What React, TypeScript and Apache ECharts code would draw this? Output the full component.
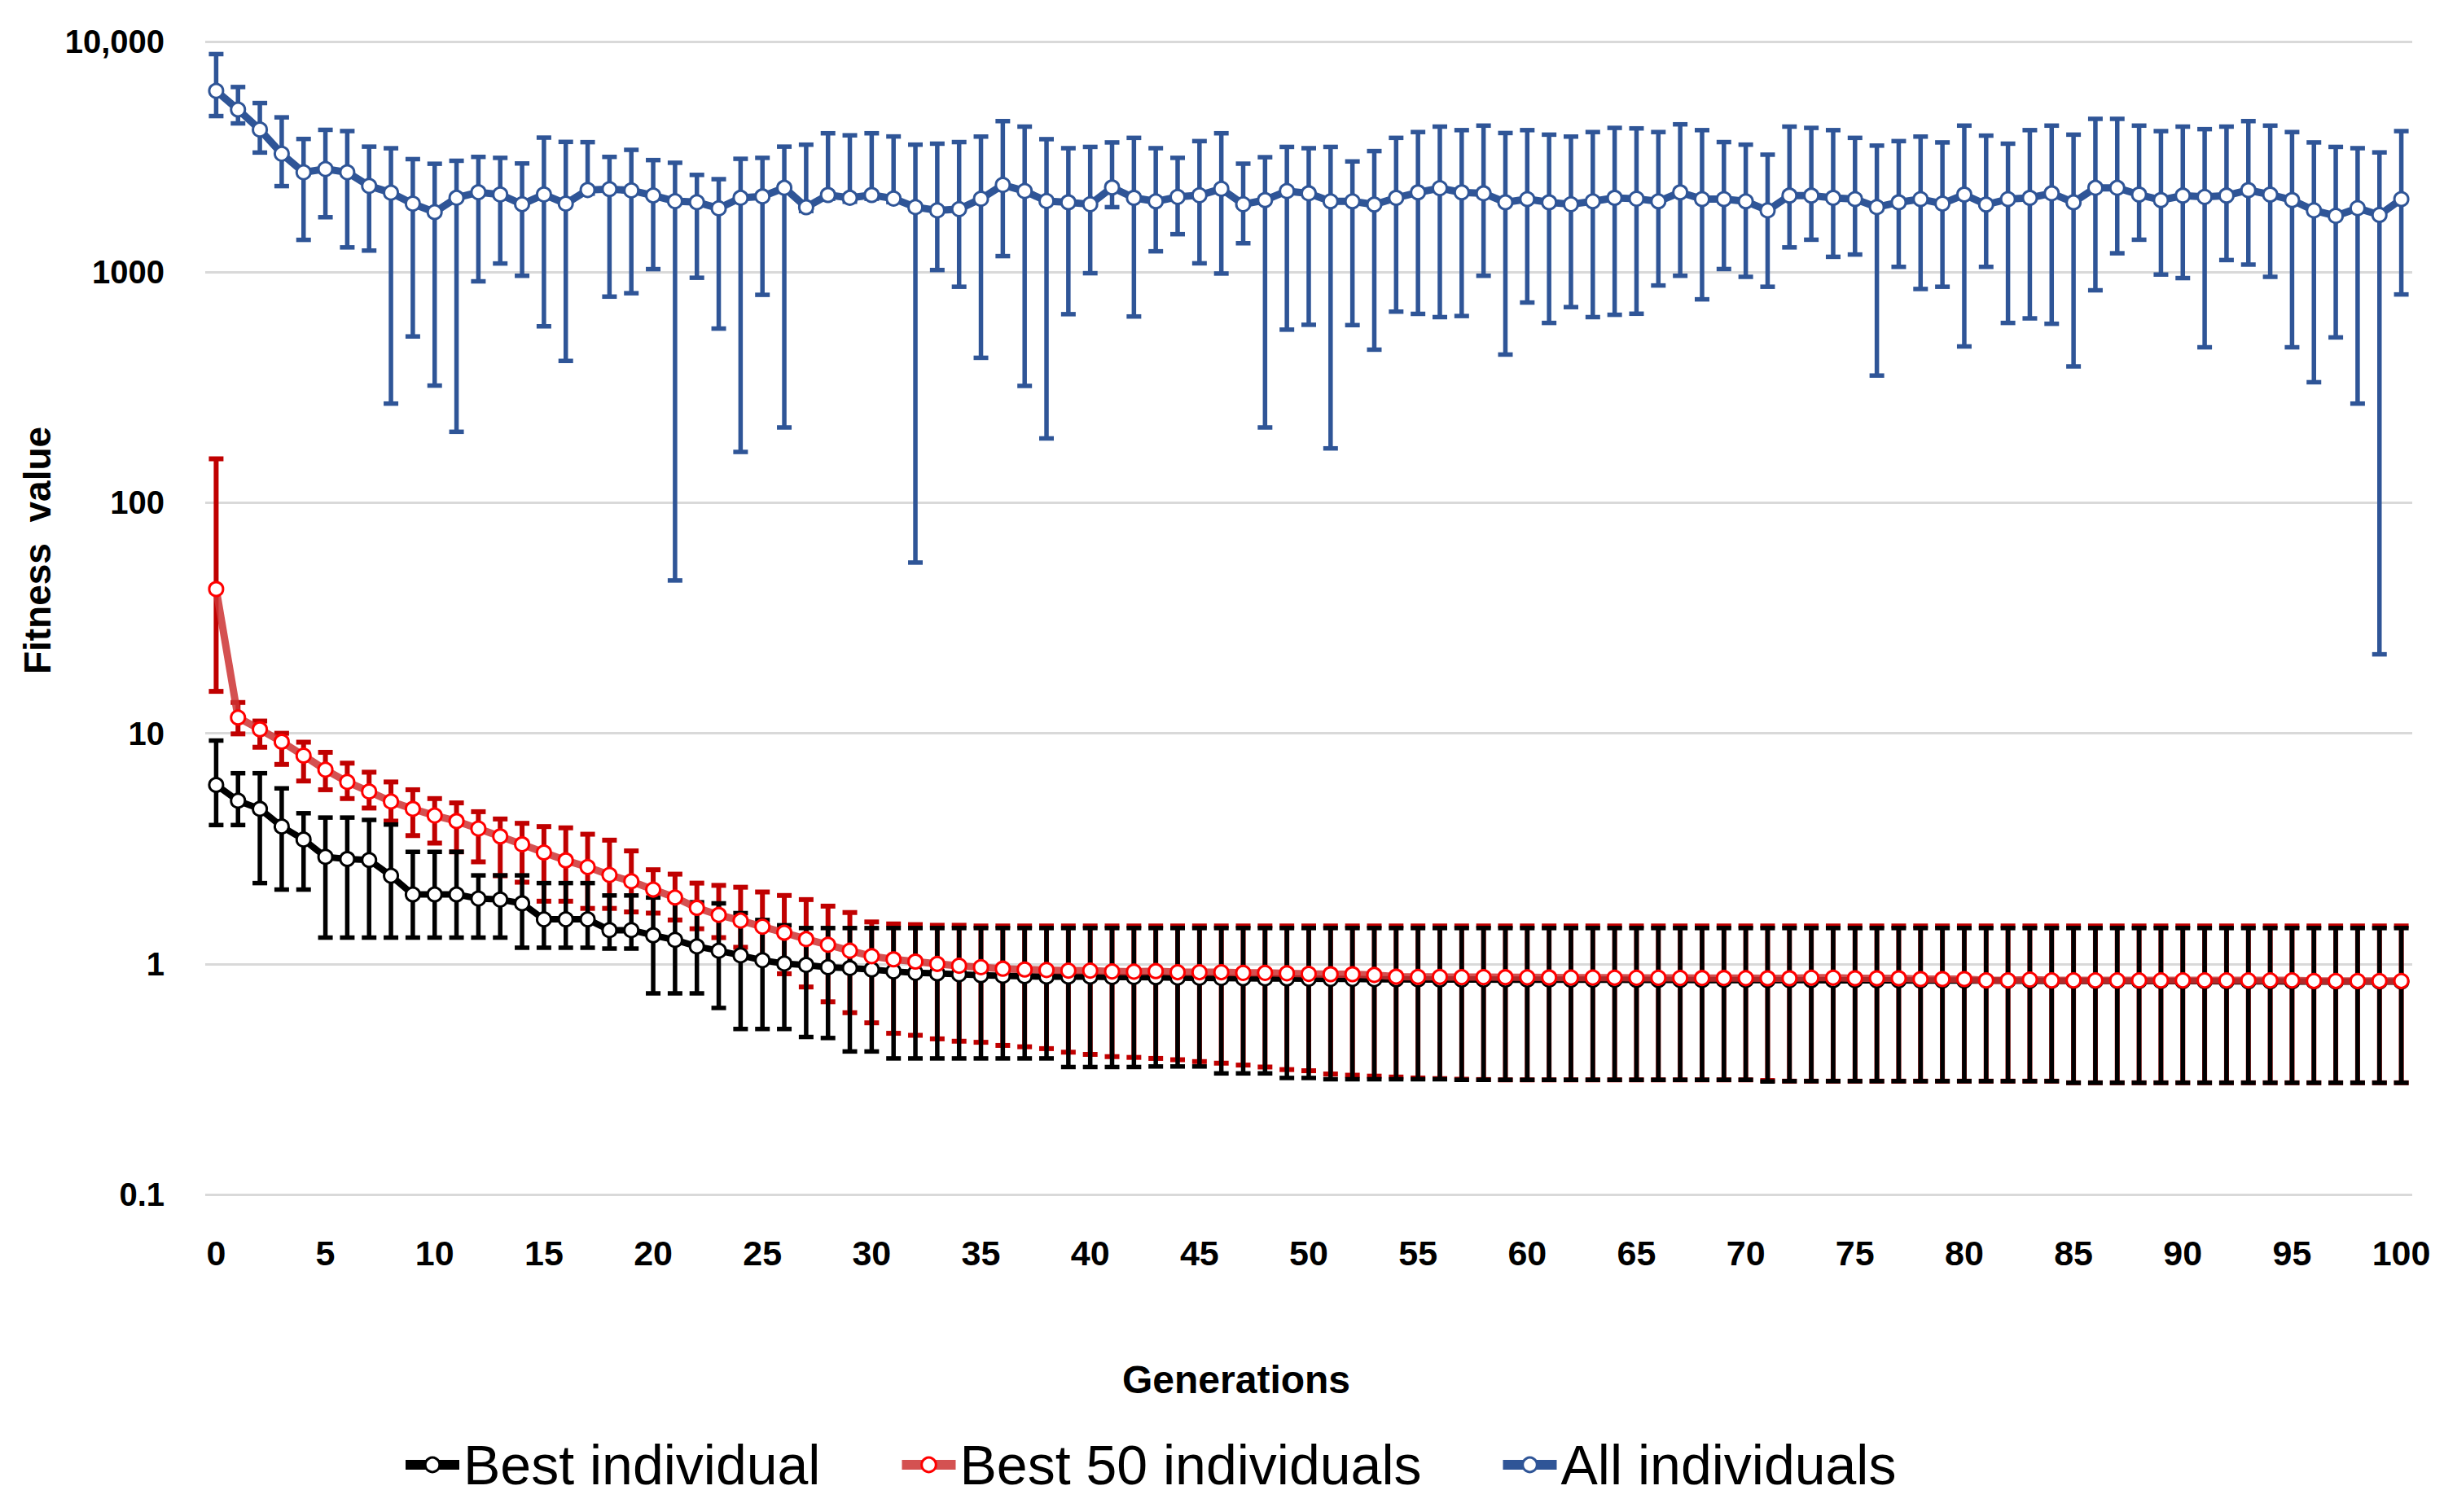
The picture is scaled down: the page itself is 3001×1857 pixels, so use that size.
import React, { useEffect, useRef } from "react";
import * as echarts from "echarts";

const generations: string[] = Array.from({ length: 101 }, (_, i) => String(i));

const blueMean = [6110,5070,4150,3260,2710,2800,2710,2365,2210,1980,
1820,2100,2220,2170,1970,2170,1980,2270,2290,2260,
2150,2030,2010,1890,2100,2130,2320,1912,2160,2100,
2160,2085,1913,1852,1876,2079,2388,2246,2033,2007,
1969,2328,2099,2027,2119,2154,2297,1969,2053,2246,
2196,2027,2027,1963,2099,2217,2312,2217,2196,2007,
2073,2007,1969,2027,2099,2080,2027,2217,2073,2073,
2027,1852,2147,2147,2099,2073,1913,2007,2073,1982,
2168,1963,2073,2099,2196,2007,2320,2320,2168,2053,
2147,2119,2147,2268,2168,2053,1852,1753,1894,1770,
2073];
const blueLow = [4750,4415,3300,2360,1380,1730,1280,1240,269,526,
322,203,912,1090,964,582,412,2190,783,810,
1030,46,945,569,166,797,212,1840,2080,2020,
2080,2010,55,1021,864,425,1173,321,190,657,
989,1913,642,1231,1460,1092,986,1334,212,563,
591,172,589,461,674,659,638,645,964,439,
738,602,705,638,653,660,875,964,762,1031,
954,864,1280,1382,1165,1192,356,1054,845,864,
476,1054,602,630,597,390,834,1207,1382,976,
942,472,1128,1078,954,472,333,521,269,22,
800];
const blueHigh = [8820,6350,5410,4690,3780,4140,4090,3500,3445,3090,
2950,3040,3160,3130,2960,3830,3670,3660,3160,3390,
3060,2980,2640,2530,3100,3130,3500,3570,4000,3920,
4000,3875,3571,3606,3663,3870,4517,4276,3772,3447,
3491,3651,3821,3447,3130,3699,4000,2953,3150,3491,
3447,3491,3020,3348,3821,4049,4276,4128,4318,4010,
4128,3946,3870,4049,4221,4200,4049,4374,4128,3663,
3571,3231,4276,4221,4128,3821,3537,3699,3870,3651,
4318,3908,3606,4128,4318,3946,4620,4620,4318,4088,
4276,4168,4276,4517,4318,4049,3651,3491,3447,3305,
4088];

const redMean = [42.2,11.7,10.4,9.19,8.0,6.95,6.15,5.59,5.06,4.70,
4.40,4.16,3.86,3.57,3.30,3.04,2.81,2.63,2.43,2.28,
2.10,1.94,1.75,1.63,1.54,1.45,1.365,1.28,1.21,1.14,
1.08,1.046,1.023,1.0,0.981,0.967,0.953,0.945,0.94,0.935,
0.935,0.927,0.925,0.93,0.92,0.92,0.92,0.914,0.914,0.91,
0.905,0.902,0.902,0.895,0.88,0.878,0.878,0.876,0.876,0.875,
0.874,0.873,0.872,0.872,0.871,0.87,0.87,0.869,0.868,0.868,
0.867,0.866,0.866,0.871,0.871,0.866,0.866,0.866,0.859,0.859,
0.859,0.848,0.848,0.855,0.848,0.848,0.848,0.848,0.848,0.848,
0.848,0.848,0.848,0.848,0.848,0.848,0.843,0.843,0.843,0.843,
0.843];
const redLow = [15.2,9.94,8.7,7.33,6.21,5.69,5.21,4.74,4.16,3.60,
3.34,3.06,2.77,2.41,2.26,1.87,1.87,1.74,1.74,1.68,
1.66,1.55,1.42,1.30,1.18,1.037,0.906,0.794,0.685,0.614,
0.555,0.50,0.49,0.473,0.462,0.457,0.443,0.437,0.429,0.414,
0.405,0.396,0.393,0.389,0.384,0.377,0.371,0.364,0.357,0.348,
0.344,0.333,0.329,0.326,0.323,0.320,0.318,0.316,0.315,0.314,
0.314,0.314,0.314,0.314,0.314,0.314,0.314,0.314,0.314,0.314,
0.314,0.312,0.31,0.31,0.31,0.31,0.31,0.31,0.31,0.31,
0.31,0.31,0.31,0.31,0.31,0.305,0.305,0.305,0.305,0.305,
0.305,0.305,0.305,0.305,0.305,0.305,0.305,0.305,0.305,0.305,
0.305];
const redHigh = [155,13.6,11.3,10.0,9.15,8.27,7.42,6.78,6.15,5.69,
5.21,4.99,4.57,4.25,4.07,3.94,3.89,3.65,3.44,3.09,
2.56,2.45,2.24,2.19,2.15,2.05,1.98,1.90,1.78,1.67,
1.52,1.49,1.48,1.47,1.47,1.46,1.46,1.46,1.46,1.46,
1.46,1.46,1.46,1.46,1.46,1.46,1.46,1.46,1.46,1.46,
1.46,1.46,1.46,1.46,1.46,1.46,1.46,1.46,1.46,1.46,
1.46,1.46,1.46,1.46,1.46,1.46,1.46,1.46,1.46,1.46,
1.46,1.46,1.46,1.46,1.46,1.46,1.46,1.46,1.46,1.46,
1.46,1.46,1.46,1.46,1.46,1.46,1.46,1.46,1.46,1.46,
1.46,1.46,1.46,1.46,1.46,1.46,1.46,1.46,1.46,1.46,
1.46];

const blackMean = [5.97,5.10,4.70,3.94,3.46,2.91,2.85,2.82,2.41,2.0,
2.0,2.0,1.92,1.90,1.83,1.56,1.56,1.56,1.40,1.40,
1.33,1.27,1.19,1.14,1.088,1.037,1.003,0.989,0.967,0.959,
0.945,0.927,0.914,0.909,0.901,0.893,0.888,0.884,0.881,0.881,
0.881,0.877,0.877,0.875,0.872,0.870,0.868,0.866,0.865,0.864,
0.862,0.86,0.86,0.858,0.857,0.856,0.855,0.855,0.855,0.854,
0.854,0.854,0.853,0.853,0.853,0.852,0.852,0.852,0.851,0.851,
0.851,0.85,0.85,0.85,0.849,0.849,0.848,0.848,0.847,0.847,
0.846,0.846,0.845,0.845,0.844,0.844,0.843,0.843,0.842,0.842,
0.841,0.841,0.840,0.840,0.840,0.839,0.839,0.838,0.838,0.838,
0.838];
const blackLow = [4.0,4.0,2.24,2.10,2.10,1.30,1.30,1.30,1.30,1.30,
1.30,1.30,1.30,1.30,1.175,1.175,1.175,1.175,1.165,1.165,
0.745,0.745,0.745,0.644,0.522,0.522,0.522,0.482,0.477,0.417,
0.417,0.389,0.389,0.389,0.389,0.389,0.389,0.389,0.389,0.357,
0.357,0.357,0.357,0.359,0.359,0.359,0.335,0.335,0.335,0.320,
0.320,0.316,0.316,0.316,0.316,0.316,0.316,0.314,0.314,0.314,
0.314,0.314,0.314,0.314,0.314,0.314,0.314,0.314,0.314,0.314,
0.314,0.309,0.31,0.31,0.31,0.31,0.31,0.31,0.31,0.31,
0.31,0.31,0.31,0.31,0.31,0.305,0.305,0.305,0.305,0.305,
0.305,0.305,0.305,0.305,0.305,0.305,0.305,0.305,0.305,0.305,
0.305];
const blackHigh = [9.3,6.71,6.71,5.77,4.50,4.31,4.31,4.21,4.02,3.06,
3.06,3.06,2.42,2.42,2.42,2.24,2.24,2.24,1.98,1.98,
1.94,1.90,1.85,1.83,1.66,1.55,1.47,1.43,1.43,1.43,
1.43,1.43,1.43,1.43,1.43,1.43,1.43,1.43,1.43,1.43,
1.43,1.43,1.43,1.43,1.43,1.43,1.43,1.43,1.43,1.43,
1.43,1.43,1.43,1.43,1.43,1.43,1.43,1.43,1.43,1.43,
1.43,1.43,1.43,1.43,1.43,1.43,1.43,1.43,1.43,1.43,
1.43,1.43,1.43,1.43,1.43,1.43,1.43,1.43,1.43,1.43,
1.43,1.43,1.43,1.43,1.43,1.43,1.43,1.43,1.43,1.43,
1.43,1.43,1.43,1.43,1.43,1.43,1.43,1.43,1.43,1.43,
1.43];

const yTicks = [0.1, 1, 10, 100, 1000, 10000];
const yTickLabels = ["0.1", "1", "10", "100", "1000", "10,000"];

const FONT = '"Liberation Sans", Arial, sans-serif';
const BLUE = "#2F5597";
const RED_LINE = "rgba(204,50,50,0.85)";
const RED_BAR = "#C00000";
const RED_MARK = "#FF0000";

function errorSeries(name: string, lows: number[], highs: number[], color: string, width: number, z: number) {
  return {
    type: "custom",
    name,
    z,
    silent: true,
    encode: { x: 0, y: [1, 2] },
    data: lows.map((lo, i) => [i, lo, highs[i]]),
    renderItem: (_params: any, api: any) => {
      const x = api.value(0);
      const lo = api.coord([x, api.value(1)]);
      const hi = api.coord([x, api.value(2)]);
      const hw = 9;
      const style = { stroke: color, lineWidth: width };
      return {
        type: "group",
        children: [
          { type: "line", shape: { x1: lo[0], y1: lo[1], x2: hi[0], y2: hi[1] }, style },
          { type: "line", shape: { x1: lo[0] - hw, y1: lo[1], x2: lo[0] + hw, y2: lo[1] }, style },
          { type: "line", shape: { x1: hi[0] - hw, y1: hi[1], x2: hi[0] + hw, y2: hi[1] }, style },
        ],
      };
    },
  };
}

function lineSeries(name: string, data: number[], lineColor: string, markColor: string, width: number, z: number) {
  return {
    type: "line",
    name,
    z,
    data,
    symbol: "circle",
    symbolSize: 17,
    showAllSymbol: true,
    lineStyle: { color: lineColor, width },
    itemStyle: { color: "#ffffff", borderColor: markColor, borderWidth: 3 },
    emphasis: { disabled: true },
  };
}

export default function App() {
  const ref = useRef<HTMLDivElement>(null);
  useEffect(() => {
    document.body.style.margin = "0";
    if (!ref.current) return;
    const chart = echarts.init(ref.current, undefined, { renderer: "svg" });
    chart.setOption({
      animation: false,
      backgroundColor: "#ffffff",
      grid: { left: 252, right: 39, top: 51, bottom: 390, containLabel: false },
      xAxis: {
        type: "category",
        data: generations,
        boundaryGap: true,
        axisLine: { show: false },
        axisTick: { show: false },
        axisLabel: {
          interval: 4,
          margin: 50,
          color: "#000",
          fontSize: 43,
          fontWeight: "bold",
          fontFamily: FONT,
        },
        splitLine: { show: false },
      },
      yAxis: {
        type: "log",
        logBase: 10,
        min: 0.1,
        max: 10000,
        axisLine: { show: false },
        axisTick: { show: false },
        axisLabel: {
          margin: 50,
          color: "#000",
          fontSize: 40,
          fontWeight: "bold",
          fontFamily: FONT,
          formatter: (v: number) => {
            const idx = yTicks.findIndex((t) => Math.abs(t - v) / t < 1e-6);
            return idx >= 0 ? yTickLabels[idx] : String(v);
          },
        },
        splitLine: { show: true, lineStyle: { color: "#d9d9d9", width: 3 } },
      },
      legend: {
        data: [
          { name: "Best individual", lineStyle: { width: 12, color: "#000000" }, itemStyle: { color: "#ffffff", borderColor: "#000000", borderWidth: 3 } },
          { name: "Best 50 individuals", lineStyle: { width: 12, color: RED_LINE }, itemStyle: { color: "#ffffff", borderColor: RED_MARK, borderWidth: 3 } },
          { name: "All individuals", lineStyle: { width: 12, color: BLUE }, itemStyle: { color: "#ffffff", borderColor: BLUE, borderWidth: 3 } },
        ],
        left: 487,
        top: 1760,
        itemWidth: 66,
        itemHeight: 22,
        itemGap: 94,
        textStyle: { fontSize: 68, color: "#000", fontFamily: FONT },
      },
      graphic: [
        {
          type: "text",
          x: 46,
          y: 676,
          rotation: Math.PI / 2,
          style: {
            text: "Fitness  value",
            font: `bold 46px ${FONT}`,
            fill: "#000",
            align: "center",
            verticalAlign: "middle",
            textAlign: "center",
            textVerticalAlign: "middle",
          },
        },
        {
          type: "text",
          x: 1518,
          y: 1694,
          style: {
            text: "Generations",
            font: `bold 48px ${FONT}`,
            fill: "#000",
            align: "center",
            verticalAlign: "middle",
            textAlign: "center",
            textVerticalAlign: "middle",
          },
        },
      ],
      series: [
        errorSeries("Best 50 individuals error", redLow, redHigh, RED_BAR, 6, 2),
        errorSeries("Best individual error", blackLow, blackHigh, "#000000", 5.5, 3),
        lineSeries("Best individual", blackMean, "#000000", "#000000", 8, 4),
        lineSeries("Best 50 individuals", redMean, RED_LINE, RED_MARK, 9, 5),
        errorSeries("All individuals error", blueLow, blueHigh, BLUE, 5.5, 6),
        lineSeries("All individuals", blueMean, BLUE, BLUE, 9, 7),
      ],
    });
    return () => chart.dispose();
  }, []);
  return <div ref={ref} style={{ width: 3001, height: 1857 }} />;
}
